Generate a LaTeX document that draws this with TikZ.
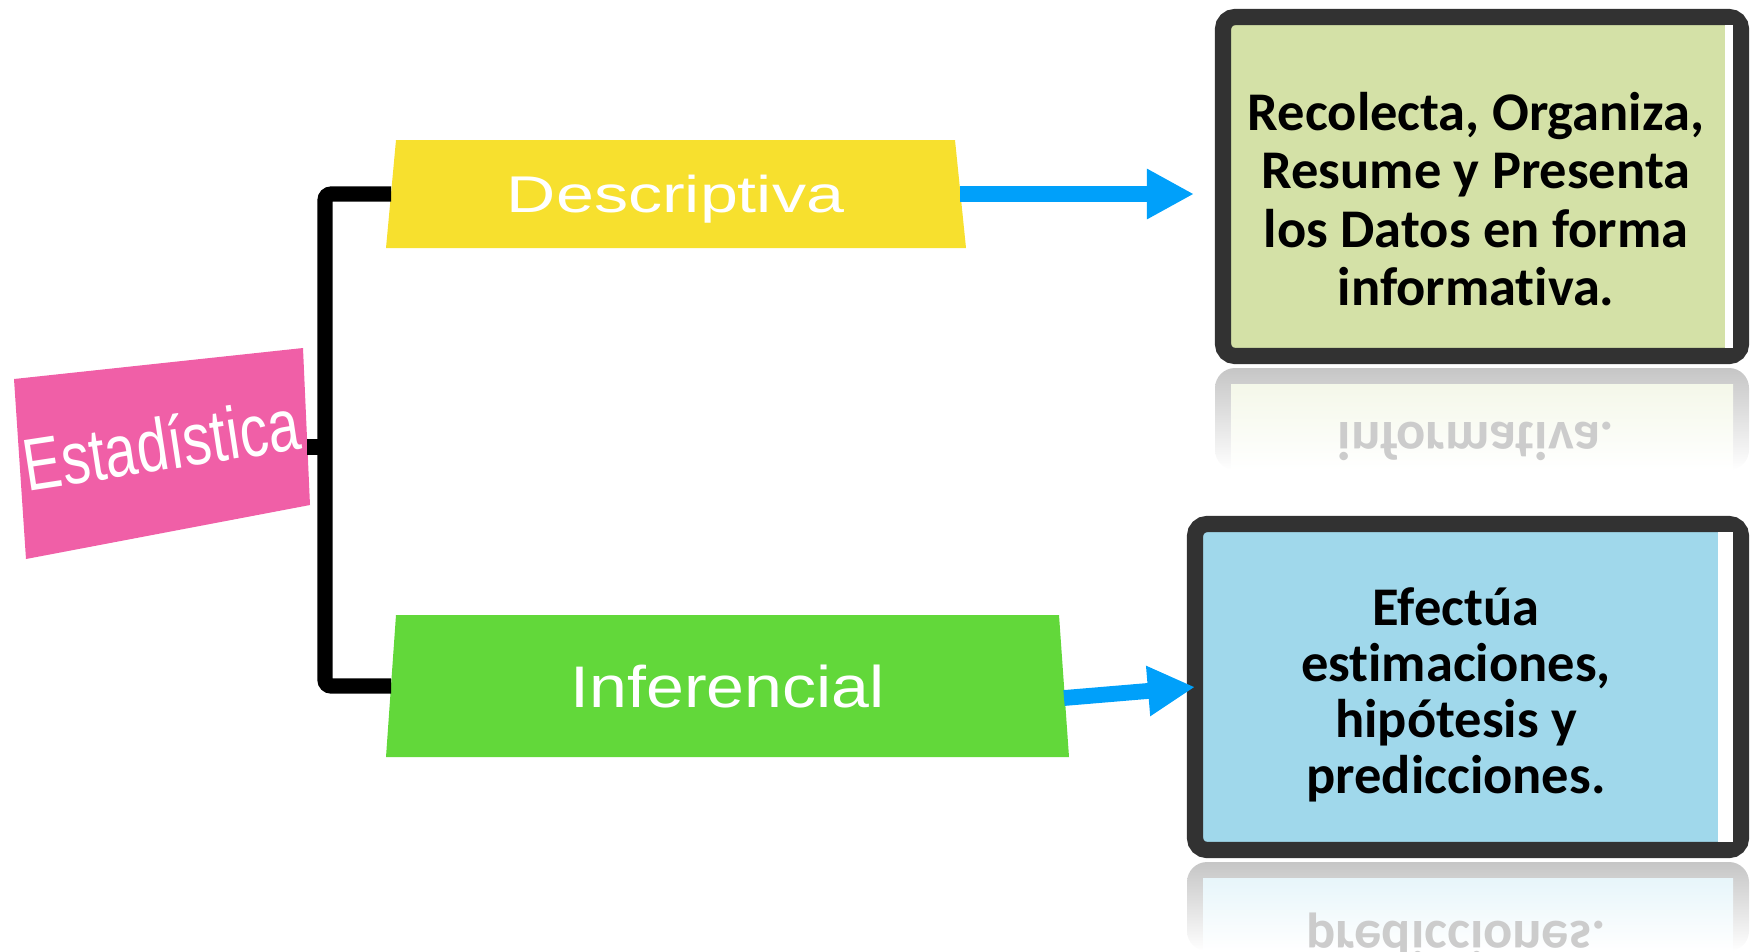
\documentclass[tikz,border=0pt]{standalone}
\usepackage{fontspec}
\setmainfont{Liberation Sans}
\newfontfamily\cajafont{Carlito}[RawFeature={-liga;-clig;-calt;-dlig}]
\usetikzlibrary{arrows.meta}

\definecolor{amarillo}{RGB}{247,224,46}
\definecolor{verde}{RGB}{98,216,58}
\definecolor{rosa}{RGB}{240,95,167}
\definecolor{azul}{RGB}{0,160,250}
\definecolor{oliva}{RGB}{212,225,167}
\definecolor{celeste}{RGB}{160,216,235}
\definecolor{marco}{RGB}{50,50,50}

\tikzset{
  etiqueta/.style={text=white, inner sep=0pt, outer sep=0pt, text depth=0pt},
  rama/.style={line width=4.3pt, rounded corners=0.6mm},
  flecha/.style={azul, line width=4.5pt, -{Triangle[length=13.4pt,width=13.4pt]}},
  caja/.style={draw=marco, line width=4.6pt, rounded corners=1.2mm, outer sep=0pt, inner sep=0pt},
  textocaja/.style={font=\cajafont\bfseries\fontsize{15.5}{16.6}\selectfont, align=center, inner sep=0pt},
  reflejo/.style={text=gray!40, inner sep=0pt, anchor=base, font=\cajafont\bfseries\fontsize{15.5}{16.6}\selectfont}
}

\begin{document}
\begin{tikzpicture}[x=0.1mm,y=-0.1mm]
  % marco de la imagen (en pixeles)
  \useasboundingbox (0,0) rectangle (1751,951);

  % Estadistica
  \fill[rosa] (14,379) -- (303,348) -- (310,505) -- (26,559) -- cycle;
  \node[etiqueta, rotate=8.7, anchor=base, font=\fontsize{21}{22}\selectfont] (est) at (165,470) {\scalebox{0.77}[1]{Estadística}};
  \coordinate (est-e) at (307,447);
  \coordinate (nudo) at (325,447);

  % Descriptiva
  \fill[amarillo] (396,140) -- (955,140) -- (966,248) -- (386,248) -- cycle;
  \node[etiqueta, minimum width=56.9mm, minimum height=10.8mm, font=\fontsize{14.7}{16}\selectfont] (desc) at (675.5,194) {\scalebox{1.32}[1]{Descriptiva}};

  % Inferencial
  \fill[verde] (396,615) -- (1059,615) -- (1069,757) -- (386,757) -- cycle;
  \node[etiqueta, minimum width=67.3mm, minimum height=14.2mm, font=\fontsize{16.7}{18}\selectfont] (inf) at (727.5,686) {\scalebox{1.16}[1]{Inferencial}};

  % llave
  \draw[rama] (desc.west) -| (nudo) |- (inf.west);
  \draw[rama] (est-e) -- (nudo);

  % cajas
  \node[caja, fill=oliva, minimum width=51.8mm, minimum height=33.9mm] (recol) at (1482,186.5) {};
  \fill[white] (1725,25) rectangle (1733,348);
  \node[textocaja] (recol-t) at (1476,199) {Recolecta, Organiza,\\Resume y Presenta\\los Datos en forma\\informativa.};

  \node[caja, fill=celeste, minimum width=54.6mm, minimum height=32.6mm] (efect) at (1468,687) {};
  \fill[white] (1718,532) rectangle (1733,842);
  \node[textocaja, font=\cajafont\bfseries\fontsize{15.5}{15.9}\selectfont] (efect-t) at (1456,695) {Efectúa\\estimaciones,\\hipótesis y\\predicciones.};

  % flechas
  \draw[flecha, shorten >=2.9mm] (desc.east) -- (desc.east -| recol.west);
  \draw[flecha] ([yshift=-1.2mm]inf.east) -- (efect.west);

  % reflejos
  \shade[top color=gray!45, bottom color=white, rounded corners=2mm] (1215,368) rectangle (1749,470);
  \shade[top color=oliva!25, bottom color=white] (1231,384) rectangle (1733,470);
  \node[reflejo] (recol-r) at (1476,422) {\scalebox{1}[-1]{informativa.}};

  \shade[top color=gray!45, bottom color=white, rounded corners=2mm] (1187,862) rectangle (1749,951);
  \shade[top color=celeste!25, bottom color=white] (1203,878) rectangle (1733,951);
  \node[reflejo] (efect-r) at (1456,921) {\scalebox{1}[-1]{predicciones.}};
\end{tikzpicture}
\end{document}
